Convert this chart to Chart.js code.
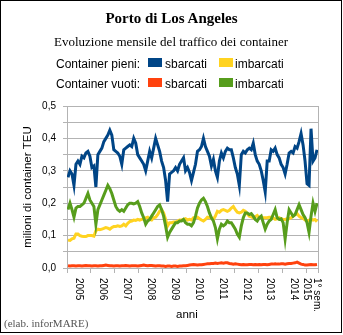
<!DOCTYPE html>
<html>
<head>
<meta charset="utf-8">
<script src="https://cdn.jsdelivr.net/npm/chart.js@4/dist/chart.umd.min.js"></script>
<style>
  html, body { margin: 0; padding: 0; background: #fff; }
  #frame { position: relative; width: 343px; height: 335px; overflow: hidden; }
  #frame canvas { position: absolute; left: 0; top: 0; }
  .box { position: absolute; left: 0; top: 0; width: 340px; height: 331px; border: 1px solid #000; }
  .txt { position: absolute; white-space: nowrap; line-height: 1; color: #000; }
  .serif { font-family: "Liberation Serif", "DejaVu Serif", serif; }
  .sans { font-family: "Liberation Sans", Arial, sans-serif; }
  .sw { position: absolute; width: 14px; height: 9px; }
</style>
</head>
<body>
<div id="frame">
  <canvas id="portChart" width="343" height="335"></canvas>
  <div class="box"></div>

  <div class="txt serif" style="left:0;width:343px;text-align:center;top:11px;font-size:15px;font-weight:bold;">Porto di Los Angeles</div>
  <div class="txt serif" style="left:0;width:342px;text-align:center;top:35px;font-size:13px;">Evoluzione mensile del traffico dei container</div>

  <div class="txt sans" style="left:56px;top:58px;font-size:12px;">Container pieni:</div>
  <div class="sw" style="left:148px;top:58px;background:#004586;"></div>
  <div class="txt sans" style="left:165px;top:58px;font-size:12px;">sbarcati</div>
  <div class="sw" style="left:219px;top:58px;background:#ffd320;"></div>
  <div class="txt sans" style="left:235px;top:58px;font-size:12px;">imbarcati</div>

  <div class="txt sans" style="left:56px;top:78px;font-size:12px;">Container vuoti:</div>
  <div class="sw" style="left:148px;top:78px;background:#ff420e;"></div>
  <div class="txt sans" style="left:165px;top:78px;font-size:12px;">sbarcati</div>
  <div class="sw" style="left:219px;top:78px;background:#579d1c;"></div>
  <div class="txt sans" style="left:235px;top:78px;font-size:12px;">imbarcati</div>

  <div class="txt sans" style="left:176px;top:309px;font-size:11.5px;">anni</div>
  <div class="txt serif" style="left:4px;top:318px;font-size:11px;color:#555;">(elab. inforMARE)</div>
</div>

<script>
/* ---- Data: monthly values, Jan 2005 – Jun 2015 (millions TEU) ---- */
const yearLabels = ["2005", "2006", "2007", "2008", "2009", "2010", "2011", "2012", "2013", "2014", ["1° sem.", "2015"]];
const yearBounds = [0, 12, 24, 36, 48, 60, 72, 84, 96, 108, 120, 126];
const yTickStep = 0.05;

// Container pieni — sbarcati
const pieniSbarcati = [
  0.28, 0.30, 0.29, 0.255, 0.32, 0.33, 0.32, 0.345, 0.34, 0.355, 0.36, 0.345,
  0.31, 0.315, 0.25, 0.35, 0.36, 0.37, 0.39, 0.40, 0.41, 0.425, 0.41, 0.365,
  0.36, 0.355, 0.345, 0.32, 0.365, 0.37, 0.375, 0.38, 0.375, 0.40, 0.385, 0.35,
  0.34, 0.33, 0.32, 0.30, 0.33, 0.36, 0.34, 0.37, 0.40, 0.38, 0.36, 0.33,
  0.31, 0.27, 0.205, 0.29, 0.295, 0.30, 0.31, 0.30, 0.32, 0.33, 0.34, 0.30,
  0.31, 0.295, 0.27, 0.295, 0.32, 0.36, 0.365, 0.375, 0.40, 0.375, 0.36, 0.345,
  0.315, 0.335, 0.30, 0.28, 0.33, 0.355, 0.34, 0.36, 0.37, 0.365, 0.365, 0.34,
  0.31, 0.29, 0.255, 0.35, 0.36, 0.355, 0.365, 0.37, 0.365, 0.385, 0.35, 0.33,
  0.32, 0.30, 0.27, 0.235, 0.33, 0.33, 0.365, 0.36, 0.37, 0.35, 0.34, 0.32,
  0.31, 0.29, 0.32, 0.355, 0.36, 0.355, 0.375, 0.37, 0.39, 0.415, 0.38, 0.33,
  0.26, 0.255, 0.43, 0.33, 0.34, 0.365
];

// Container pieni — imbarcati
const pieniImbarcati = [
  0.086, 0.085, 0.09, 0.092, 0.105, 0.105, 0.10, 0.098, 0.097, 0.097, 0.10, 0.10,
  0.10, 0.098, 0.115, 0.12, 0.118, 0.12, 0.122, 0.125, 0.123, 0.12, 0.125, 0.128,
  0.128, 0.13, 0.128, 0.13, 0.135, 0.13, 0.138, 0.143, 0.145, 0.148, 0.147, 0.15,
  0.148, 0.15, 0.152, 0.155, 0.157, 0.15, 0.148, 0.155, 0.157, 0.165, 0.175, 0.18,
  0.17, 0.15, 0.13, 0.14, 0.14, 0.142, 0.142, 0.145, 0.148, 0.148, 0.15, 0.152,
  0.148, 0.15, 0.148, 0.155, 0.155, 0.157, 0.152, 0.148, 0.145, 0.15, 0.157, 0.155,
  0.155, 0.15, 0.16, 0.175, 0.172, 0.178, 0.18, 0.178, 0.175, 0.178, 0.185, 0.19,
  0.18, 0.172, 0.17, 0.172, 0.178, 0.175, 0.167, 0.16, 0.158, 0.155, 0.158, 0.162,
  0.155, 0.157, 0.155, 0.155, 0.155, 0.157, 0.157, 0.155, 0.15, 0.152, 0.155, 0.152,
  0.15, 0.15, 0.152, 0.152, 0.155, 0.16, 0.165, 0.168, 0.16, 0.155, 0.153, 0.148,
  0.145, 0.148, 0.15, 0.148, 0.15, 0.143
];

// Container vuoti — sbarcati
const vuotiSbarcati = [
  0.007, 0.006, 0.007, 0.007, 0.006, 0.007, 0.007, 0.006, 0.007, 0.008, 0.007, 0.007,
  0.006, 0.007, 0.007, 0.006, 0.007, 0.007, 0.008, 0.009, 0.008, 0.007, 0.007, 0.006,
  0.007, 0.007, 0.006, 0.007, 0.007, 0.008, 0.007, 0.006, 0.007, 0.007, 0.007, 0.006,
  0.007, 0.008, 0.009, 0.008, 0.007, 0.008, 0.008, 0.007, 0.006, 0.007, 0.007, 0.006,
  0.006, 0.005, 0.006, 0.006, 0.005, 0.006, 0.006, 0.005, 0.006, 0.006, 0.007, 0.007,
  0.008, 0.009, 0.01, 0.011, 0.01, 0.009, 0.01, 0.01, 0.011, 0.012, 0.013, 0.013,
  0.014, 0.014, 0.015, 0.014, 0.015, 0.016, 0.015, 0.016, 0.016, 0.014, 0.013, 0.012,
  0.013, 0.012, 0.011, 0.01, 0.011, 0.01, 0.01, 0.011, 0.011, 0.01, 0.011, 0.01,
  0.011, 0.01, 0.011, 0.011, 0.01, 0.011, 0.012, 0.012, 0.013, 0.012, 0.012, 0.013,
  0.013, 0.012, 0.013, 0.014, 0.014, 0.015, 0.016, 0.018, 0.015, 0.012, 0.011, 0.009,
  0.009, 0.01, 0.011, 0.01, 0.01, 0.011
];

// Container vuoti — imbarcati
const vuotiImbarcati = [
  0.18, 0.20, 0.18, 0.157, 0.185, 0.19, 0.19, 0.195, 0.20, 0.215, 0.23, 0.21,
  0.20, 0.19, 0.135, 0.18, 0.195, 0.21, 0.225, 0.24, 0.255, 0.245, 0.23, 0.21,
  0.19, 0.18, 0.175, 0.18, 0.175, 0.185, 0.195, 0.20, 0.20, 0.198, 0.20, 0.205,
  0.19, 0.17, 0.155, 0.135, 0.145, 0.15, 0.16, 0.17, 0.18, 0.19, 0.195, 0.18,
  0.16, 0.13, 0.095, 0.11, 0.12, 0.13, 0.14, 0.14, 0.145, 0.145, 0.15, 0.14,
  0.135, 0.135, 0.13, 0.14, 0.16, 0.185, 0.20, 0.21, 0.215, 0.205, 0.19, 0.17,
  0.155, 0.145, 0.125, 0.09, 0.12, 0.135, 0.13, 0.135, 0.145, 0.14, 0.14, 0.13,
  0.12, 0.105, 0.095, 0.13, 0.155, 0.17, 0.17, 0.165, 0.168, 0.16, 0.15, 0.145,
  0.155, 0.16, 0.14, 0.12, 0.135, 0.145, 0.15, 0.165, 0.18, 0.155, 0.15, 0.152,
  0.14, 0.09, 0.14, 0.18, 0.17, 0.16, 0.165, 0.18, 0.195, 0.18, 0.165, 0.155,
  0.14, 0.11, 0.16, 0.20, 0.175, 0.20
];

/* ---- Colors (LibreOffice default palette) ---- */
const palette = {
  blue:   "#004586",
  orange: "#ff420e",
  yellow: "#ffd320",
  green:  "#579d1c",
  grid:   "#b3b3b3"
};

const asPoints = arr => arr.map((v, i) => ({ x: i + 0.5, y: v }));

/* ---- Plugin: rotated year labels + right frame of the plot ---- */
const yearLabelPlugin = {
  id: "yearLabels",
  beforeDatasetsDraw(chart) {
    const { ctx, chartArea } = chart;
    ctx.save();
    ctx.strokeStyle = palette.grid;
    ctx.lineWidth = 1;
    const xr = Math.round(chartArea.right) + 0.5;
    ctx.beginPath();
    ctx.moveTo(xr, chartArea.top);
    ctx.lineTo(xr, chartArea.bottom);
    ctx.stroke();
    ctx.restore();
  },
  afterDraw(chart) {
    const { ctx } = chart;
    const xs = chart.scales.x;
    ctx.save();
    ctx.font = '10px "Liberation Sans", Arial, sans-serif';
    ctx.fillStyle = "#000";
    ctx.textAlign = "left";
    ctx.textBaseline = "middle";
    yearLabels.forEach((lab, k) => {
      const lines = Array.isArray(lab) ? lab : [lab];
      const mid = (yearBounds[k] + yearBounds[k + 1]) / 2;
      ctx.save();
      ctx.translate(xs.getPixelForValue(mid), 278);
      ctx.rotate(Math.PI / 2);
      lines.forEach((ln, j) => ctx.fillText(ln, 0, (j - (lines.length - 1) / 2) * 10));
      ctx.restore();
    });
    ctx.restore();
  }
};

new Chart(document.getElementById("portChart"), {
  type: "line",
  data: {
    datasets: [
      { label: "vuoti imbarcati", data: asPoints(vuotiImbarcati), borderColor: palette.green },
      { label: "vuoti sbarcati",  data: asPoints(vuotiSbarcati),  borderColor: palette.orange },
      { label: "pieni imbarcati", data: asPoints(pieniImbarcati), borderColor: palette.yellow },
      { label: "pieni sbarcati",  data: asPoints(pieniSbarcati),  borderColor: palette.blue }
    ]
  },
  options: {
    responsive: false,
    animation: false,
    layout: { padding: { top: 106, right: 25, bottom: 0, left: 0 } },
    elements: {
      line: { borderWidth: 3, tension: 0, fill: false },
      point: { radius: 0 }
    },
    plugins: {
      legend: { display: false },
      tooltip: { enabled: false }
    },
    scales: {
      x: {
        type: "linear",
        min: 0,
        max: 126,
        afterBuildTicks: scale => { scale.ticks = yearBounds.map(v => ({ value: v })); },
        afterFit: scale => { scale.height = 67; },
        ticks: { display: false },
        grid: { drawOnChartArea: false, drawTicks: true, tickLength: 5, color: palette.grid },
        border: { color: palette.grid }
      },
      y: {
        min: 0,
        max: 0.5,
        afterFit: scale => { scale.width = 67; },
        ticks: {
          stepSize: yTickStep,
          padding: 7,
          color: "#000",
          font: { family: "'Liberation Sans', Arial, sans-serif", size: 10 },
          callback: v => (Math.round(v * 100) % 10 === 0 ? v.toFixed(1).replace(".", ",") : "")
        },
        grid: { color: palette.grid, tickLength: 4 },
        border: { color: palette.grid },
        title: {
          display: true,
          text: "milioni di container TEU",
          color: "#000",
          padding: { top: 21, bottom: 0 },
          font: { family: "'Liberation Sans', Arial, sans-serif", size: 11.5 }
        }
      }
    }
  },
  plugins: [yearLabelPlugin]
});
</script>
</body>
</html>
